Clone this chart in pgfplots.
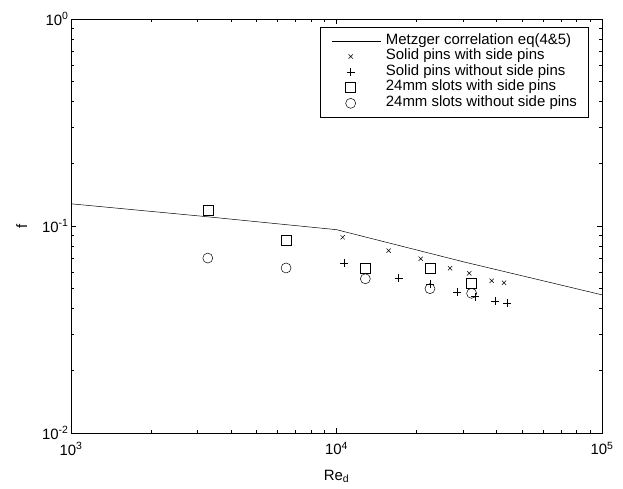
\documentclass[border=0pt]{standalone}
\usepackage{pgfplots}
\pgfplotsset{compat=1.18}
\usepackage{fontspec}
\setmainfont{Liberation Sans}

\pgfplotsset{
    markimage/.style={legend image code/.code={
        \draw[mark repeat=2, mark phase=2, ##1] plot coordinates {(0bp,0bp) (19bp,0bp) (38bp,0bp)};}},
    lineimage/.style={legend image code/.code={
        \draw[##1] (0bp,0bp) -- (49bp,0bp);}},
}

\begin{document}
\begin{tikzpicture}
\begin{axis}[
    xmode=log, ymode=log,
    scale only axis,
    width=531bp, height=414bp,
    xmin=1e3, xmax=1e5,
    ymin=1e-2, ymax=1e0,
    xtick={1e3,1e4,1e5},
    xticklabels={10\textsuperscript{3},10\textsuperscript{4},10\textsuperscript{5}},
    ytick={1e-2,1e-1,1e0},
    yticklabels={10\textsuperscript{-2},10\textsuperscript{-1},10\textsuperscript{0}},
    tick align=inside,
    major tick length=5bp,
    minor tick length=3bp,
    every tick/.style={black, line width=0.5bp},
    axis line style={line width=0.8bp},
    tick label style={font=\fontsize{15}{17}\selectfont},
    xticklabel style={yshift=-6bp},
    yticklabel style={xshift=1bp},
    label style={font=\fontsize{15}{17}\selectfont},
    xlabel={Re\textsubscript{d}},
    ylabel={f},
    xlabel style={yshift=-8bp},
    ylabel style={yshift=8bp},
    legend style={at={(rel axis cs:0.974,0.981)}, anchor=north east,
        font=\fontsize{15}{16}\selectfont, draw=black, line width=0.5bp,
        inner xsep=11bp, inner ysep=6bp, row sep=0pt,
        nodes={inner sep=0pt, text height=11bp, text depth=4.6bp}},
    legend cell align=left,
    /tikz/every odd column/.append style={column sep=5bp},
]
% Metzger correlation eq(4&5)
\addplot[black, line width=0.5bp, mark=none, lineimage] coordinates {
    (1000,0.128) (3000,0.112) (10000,0.096) (30000,0.0672) (100000,0.0465)};
\addlegendentry{Metzger correlation eq(4\&5)}
% Solid pins with side pins
\addplot[only marks, mark=x, mark size=3bp, black, line width=0.5bp, markimage] coordinates {
    (10550,0.0882) (15720,0.0760) (20750,0.0695) (26770,0.0625)
    (31620,0.0591) (38420,0.0544) (42770,0.0532)};
\addlegendentry{Solid pins with side pins}
% Solid pins without side pins
\addplot[only marks, mark=+, mark size=4bp, black, line width=0.5bp, markimage] coordinates {
    (10670,0.0660) (17140,0.0561) (22490,0.0525) (28510,0.0480)
    (33240,0.0456) (39540,0.0435) (43950,0.0423)};
\addlegendentry{Solid pins without side pins}
% 24mm slots with side pins
\addplot[only marks, mark=square, mark size=5bp, black, line width=0.5bp, markimage] coordinates {
    (3275,0.1194) (6457,0.0849) (12840,0.0622) (22490,0.0622) (32270,0.0529)};
\addlegendentry{24mm slots with side pins}
% 24mm slots without side pins
\addplot[only marks, mark=o, mark size=5bp, black, line width=0.5bp, markimage] coordinates {
    (3275,0.0700) (6457,0.0627) (12840,0.0556) (22490,0.0498) (32270,0.0473)};
\addlegendentry{24mm slots without side pins}
\end{axis}
\useasboundingbox ([xshift=-71bp,yshift=-56bp]current axis.south west)
    rectangle ([xshift=21bp,yshift=19bp]current axis.north east);
\end{tikzpicture}
\end{document}
